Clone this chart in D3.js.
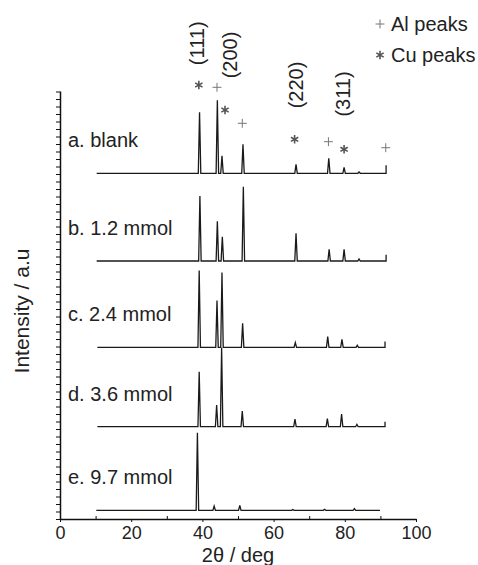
<!DOCTYPE html>
<html lang="en">
<head>
  <meta charset="UTF-8">
  <title>XRD patterns</title>
  <style>
    body { margin: 0; background: #fff; }
    text { font-family: "Liberation Sans", Arial, sans-serif; fill: #222; }
    .trace { fill: none; stroke: #1a1a1a; stroke-width: 1.3; }
    .axis path, .axis line { stroke: #111; }
    .axis path { stroke-width: 1.5; }
  </style>
</head>
<body>
  <svg id="chart" width="478" height="565"></svg>

  <script src="https://d3js.org/d3.v7.min.js"></script>
  <script>
    // samples, top to bottom
    const SAMPLES = ["a. blank", "b. 1.2 mmol", "c. 2.4 mmol", "d. 3.6 mmol", "e. 9.7 mmol"];
    // vertical offset of each pattern (a.u.)
    const OFFSETS = [345.7, 258, 171.7, 92.3, 8.7];
    // scan range (2θ) and height where the scan stops
    const STARTS = [10.3, 10.3, 10.5, 10.5, 10.2];
    const ENDS   = [91.6, 91.6, 91.3, 91.3, 89.9];
    const TAILS  = [8, 6.3, 5.7, 5, 0];
    // peak positions (2θ) and heights (a.u.) per sample
    const PEAK_POS = [
      [39.2, 44.2, 45.5, 51.4, 66.3, 75.5, 79.8, 84.0],
      [39.3, 44.2, 45.6, 51.5, 66.3, 75.6, 79.8, 84.0],
      [39.1, 44.1, 45.5, 51.3, 66.1, 75.2, 79.2, 83.5],
      [39.1, 44.0, 45.4, 51.2, 66.0, 75.1, 79.1, 83.4],
      [38.6, 43.3, 50.5, 65.4, 74.3, 82.7]
    ];
    const PEAK_H = [
      [61, 73, 17.6, 29, 9, 15, 6, 1.3],
      [65, 39.7, 24.3, 74.3, 27.7, 11.7, 11.7, 2],
      [76.7, 46.7, 74.7, 24, 4.7, 10.7, 8, 2],
      [55, 21.7, 79, 15.7, 7.7, 8, 12.7, 2.4],
      [77.6, 4.3, 5, 0.7, 1, 1.7]
    ];
    // peak markers above pattern a (2θ, height above its baseline)
    const MARK_TYPE = ["Cu", "Al", "Cu", "Al", "Cu", "Al", "Cu", "Al"];
    const MARK_POS  = [39.0, 44.1, 46.35, 51.2, 65.9, 75.4, 79.8, 91.5];
    const MARK_H    = [88.3, 86, 63.3, 50, 34, 31.6, 24, 25.6];
    // Miller indices
    const HKL     = ["(111)", "(200)", "(220)", "(311)"];
    const HKL_POS = [38.4, 47.75, 66.3, 79.5];
    const HKL_H   = [130, 118.3, 88.3, 79.3];
    const X_TICKS = [0, 20, 40, 60, 80, 100];
    const X_MINOR = [10, 30, 50, 70, 90];

    const svg = d3.select("#chart");
    const x = d3.scaleLinear().domain([0, 100]).range([60, 416]);
    const y = d3.scaleLinear().domain([0, 428]).range([519, 91]);

    // axes
    svg.append("g").attr("class", "axis").attr("transform", "translate(0,519)")
      .call(d3.axisBottom(x).tickValues(X_TICKS).tickSize(3).tickSizeOuter(0).tickPadding(4))
      .call(g => g.selectAll("text").style("font-size", "18px").attr("fill", "#222"));
    svg.append("g").attr("class", "axis").attr("transform", "translate(0,519)")
      .call(d3.axisBottom(x).tickValues(X_MINOR).tickSize(-3).tickFormat(""))
      .call(g => g.select(".domain").remove());
    svg.append("g").attr("class", "axis").attr("transform", "translate(60,0)")
      .call(d3.axisLeft(y).tickValues(d3.range(0, 428.1, 7.5)).tickSize(4).tickSizeOuter(0).tickFormat(""));

    svg.append("text").attr("x", x(50)).attr("y", 562)
      .attr("text-anchor", "middle").style("font-size", "20px").text("2θ / deg");
    svg.append("text").attr("transform", "translate(29,311) rotate(-90)")
      .attr("text-anchor", "middle").style("font-size", "21px").text("Intensity / a.u");

    // patterns
    const line = d3.line().x(d => x(d[0])).y(d => y(d[1]));
    const hw = 0.35;
    SAMPLES.forEach((name, i) => {
      const off = OFFSETS[i];
      const pts = [[STARTS[i], off]];
      PEAK_POS[i].forEach((p, k) => {
        pts.push([p - hw, off], [p, off + PEAK_H[i][k]], [p + hw, off]);
      });
      pts.push([ENDS[i], off], [ENDS[i], off + TAILS[i]]);
      svg.append("path").attr("class", "trace").attr("d", line(pts));
      svg.append("text").attr("x", 68).attr("y", y(off) - 26)
        .style("font-size", "20px").text(name);
    });

    // markers
    const sym = {
      Al: d3.symbol().type(d3.symbolPlus).size(28),
      Cu: d3.symbol().type(d3.symbolAsterisk).size(50)
    };
    const symStyle = { Al: ["#777", 1], Cu: ["#555", 1.6] };
    MARK_TYPE.forEach((t, i) => {
      svg.append("path").attr("d", sym[t]())
        .attr("transform", `translate(${x(MARK_POS[i])},${y(OFFSETS[0] + MARK_H[i])})`)
        .attr("fill", "none").attr("stroke", symStyle[t][0]).attr("stroke-width", symStyle[t][1]);
    });
    HKL.forEach((h, i) => {
      svg.append("text")
        .attr("transform", `translate(${x(HKL_POS[i]) + 7},${y(OFFSETS[0] + HKL_H[i])}) rotate(-90)`)
        .attr("text-anchor", "middle").style("font-size", "20px").text(h);
    });

    // legend
    [["Al", "Al peaks", 24], ["Cu", "Cu peaks", 55]].forEach(([t, label, ly]) => {
      svg.append("path").attr("d", sym[t]()).attr("transform", `translate(380,${ly})`)
        .attr("fill", "none").attr("stroke", symStyle[t][0]).attr("stroke-width", symStyle[t][1]);
      svg.append("text").attr("x", 391).attr("y", ly + 6.5).style("font-size", "20px").text(label);
    });
  </script>
</body>
</html>
